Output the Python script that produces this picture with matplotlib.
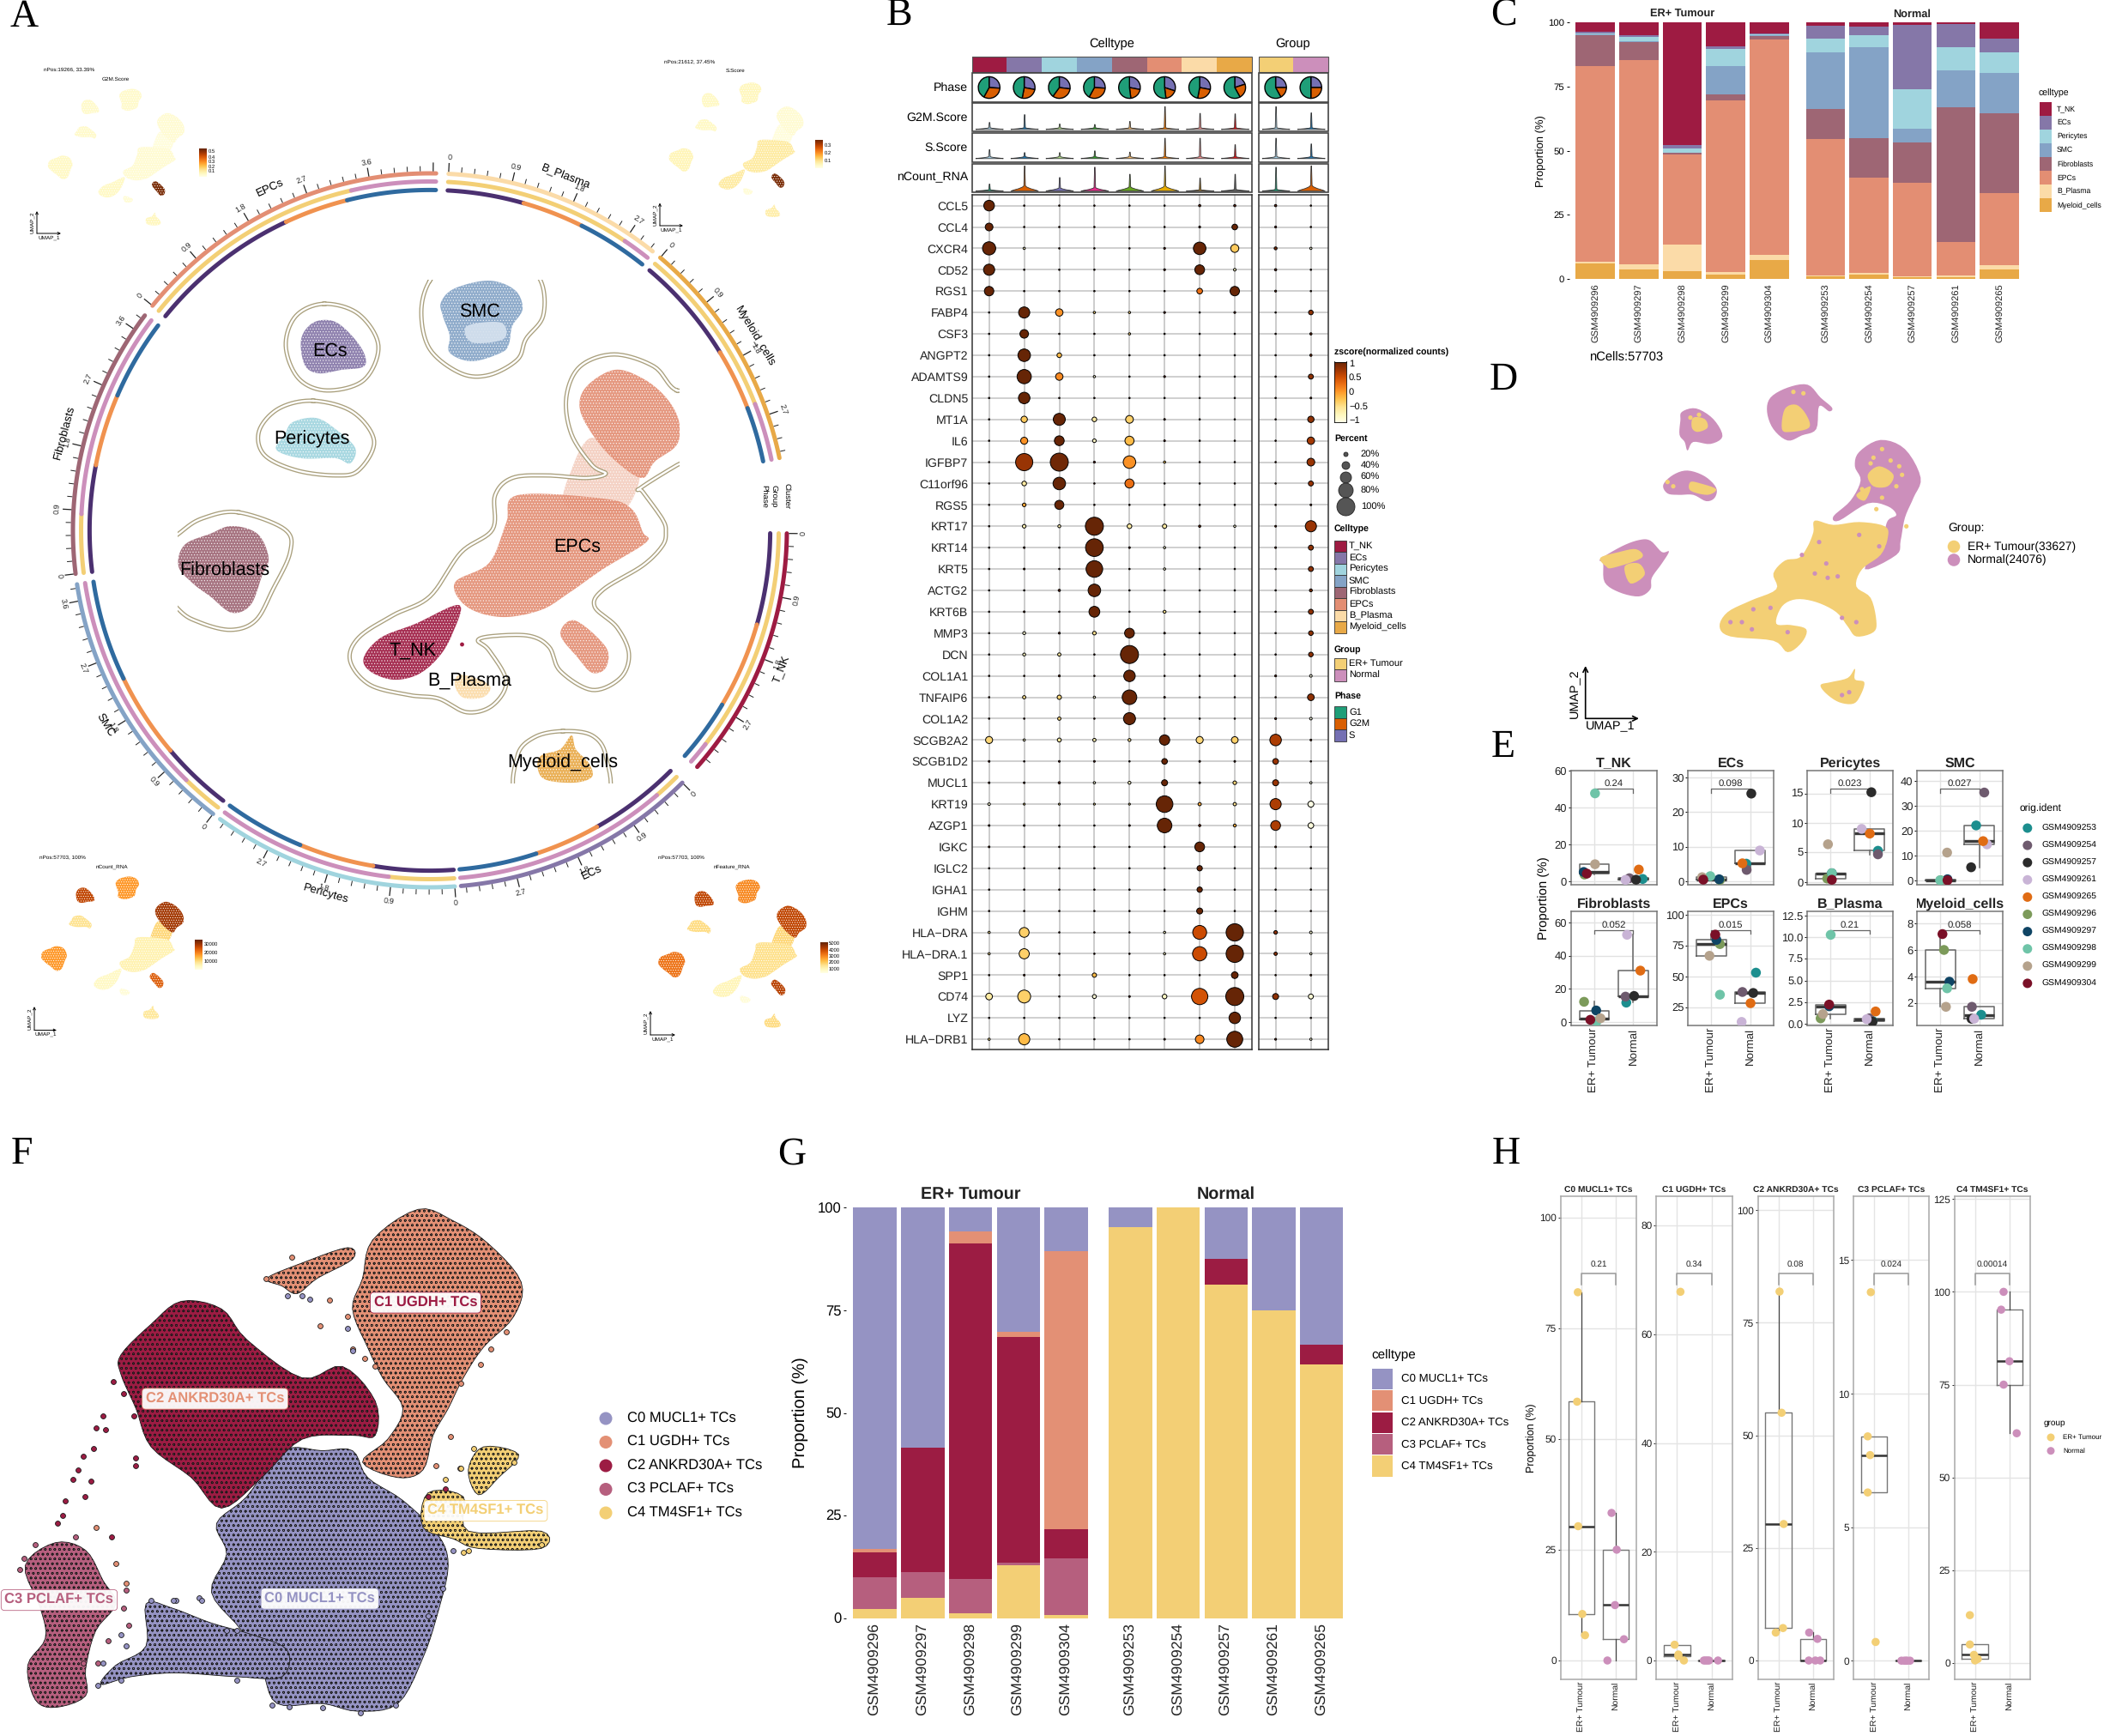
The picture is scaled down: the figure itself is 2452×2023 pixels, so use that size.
import numpy as np
import matplotlib
matplotlib.use("Agg")
import matplotlib.pyplot as plt
from matplotlib.patches import Polygon, Rectangle

plt.rcParams['font.family'] = ['Liberation Sans', 'DejaVu Sans']
plt.rcParams['hatch.linewidth'] = 0.45
plt.rcParams['text.hinting'] = 'no_hinting'

W, H = 2452, 2023

CELLTYPES = ["T_NK", "ECs", "Pericytes", "SMC", "Fibroblasts", "EPCs", "B_Plasma", "Myeloid_cells"]
CELL_COLORS = ["#9E1B42", "#8577A8", "#A0D4DE", "#84A3C6", "#9E6674", "#E38E73", "#FBDBA8", "#E8A947"]
GROUP_COLORS = ["#F3CF75", "#CC8FBB"]
PHASE_COLORS = ["#1F9E78", "#D95F02", "#7570B3"]
RING_PHASE = ["#4B3070", "#F0924F", "#2F6A9F"]

SAMPLES_ER = ["GSM4909296", "GSM4909297", "GSM4909298", "GSM4909299", "GSM4909304"]
SAMPLES_N = ["GSM4909253", "GSM4909254", "GSM4909257", "GSM4909261", "GSM4909265"]

# panel C, one row per sample, columns in CELLTYPES order
PROP_ER = [
    [3.7, 0.4, 0.6, 0.1, 12.3, 76.2, 0.6, 6.0],
    [5.1, 0.6, 1.5, 0.5, 7.1, 79.6, 2.0, 3.6],
    [47.8, 1.5, 1.5, 0.1, 0.6, 35.1, 10.3, 3.1],
    [9.3, 1.2, 6.4, 11.2, 2.4, 66.7, 1.1, 1.7],
    [4.2, 0.5, 0.4, 0.1, 1.5, 83.9, 2.2, 7.2],
]
PROP_N = [
    [1.3, 5.1, 5.3, 22.1, 11.8, 53.0, 0.3, 1.1],
    [1.7, 3.3, 4.7, 35.3, 15.4, 37.3, 0.6, 1.7],
    [0.9, 25.3, 15.2, 5.3, 15.8, 36.5, 0.2, 0.8],
    [0.8, 8.9, 9.0, 14.5, 52.5, 13.0, 0.5, 0.8],
    [6.4, 5.2, 8.2, 15.8, 31.0, 28.2, 1.4, 3.8],
]

# panel G
TC_TYPES = ["C0 MUCL1+ TCs", "C1 UGDH+ TCs", "C2 ANKRD30A+ TCs", "C3 PCLAF+ TCs", "C4 TM4SF1+ TCs"]
TC_COLORS = ["#9593C3", "#E39075", "#9C1C43", "#B65F7E", "#F3CF75"]
TC_ER = [
    [83.1, 0.8, 6.2, 7.7, 2.2],
    [58.4, 0.0, 30.3, 6.3, 5.0],
    [5.7, 2.9, 81.9, 8.4, 1.1],
    [30.3, 1.1, 55.0, 0.7, 12.9],
    [10.5, 67.8, 7.2, 13.8, 0.7],
]
TC_N = [
    [4.8, 0, 0, 0, 95.2],
    [0, 0, 0, 0, 100.0],
    [12.5, 0, 6.2, 0, 81.3],
    [25.0, 0, 0, 0, 75.0],
    [33.3, 0, 4.8, 0, 61.9],
]

# panel B
GENES = ["CCL5", "CCL4", "CXCR4", "CD52", "RGS1", "FABP4", "CSF3", "ANGPT2", "ADAMTS9", "CLDN5",
         "MT1A", "IL6", "IGFBP7", "C11orf96", "RGS5", "KRT17", "KRT14", "KRT5", "ACTG2", "KRT6B",
         "MMP3", "DCN", "COL1A1", "TNFAIP6", "COL1A2", "SCGB2A2", "SCGB1D2", "MUCL1", "KRT19", "AZGP1",
         "IGKC", "IGLC2", "IGHA1", "IGHM", "HLA\u2212DRA", "HLA\u2212DRA.1", "SPP1", "CD74", "LYZ", "HLA\u2212DRB1"]
DOT_PCT = [
    [57, 3, 3, 3, 3, 3, 8, 8, 8, 3],
    [40, 3, 3, 3, 3, 3, 6, 28, 6, 3],
    [72, 8, 3, 3, 3, 6, 68, 42, 12, 8],
    [60, 3, 3, 3, 3, 6, 52, 10, 8, 3],
    [50, 3, 3, 3, 3, 3, 28, 50, 6, 3],
    [3, 60, 38, 8, 8, 6, 3, 6, 3, 22],
    [3, 45, 3, 3, 8, 3, 3, 3, 3, 8],
    [3, 68, 22, 3, 3, 3, 3, 3, 3, 8],
    [3, 78, 38, 8, 3, 6, 3, 3, 3, 24],
    [3, 62, 3, 3, 3, 3, 3, 3, 3, 5],
    [3, 32, 65, 22, 40, 5, 3, 3, 3, 32],
    [3, 36, 52, 16, 48, 5, 3, 3, 3, 38],
    [3, 95, 100, 6, 68, 8, 3, 3, 3, 40],
    [3, 22, 68, 3, 48, 3, 3, 3, 3, 24],
    [3, 16, 48, 3, 3, 3, 3, 3, 3, 5],
    [3, 16, 12, 100, 22, 20, 8, 8, 5, 60],
    [3, 5, 3, 98, 5, 8, 3, 3, 5, 24],
    [3, 5, 3, 92, 3, 8, 3, 3, 3, 24],
    [3, 3, 8, 68, 3, 3, 3, 3, 3, 12],
    [3, 5, 3, 58, 3, 12, 3, 3, 3, 24],
    [3, 12, 6, 16, 52, 5, 3, 3, 3, 22],
    [3, 12, 14, 3, 100, 3, 3, 3, 3, 22],
    [3, 3, 6, 3, 62, 3, 3, 3, 6, 10],
    [3, 14, 20, 8, 80, 5, 3, 3, 3, 34],
    [3, 3, 14, 3, 65, 3, 3, 3, 6, 10],
    [36, 8, 18, 14, 12, 55, 36, 34, 62, 5],
    [5, 3, 5, 5, 3, 28, 5, 5, 28, 3],
    [5, 5, 8, 8, 12, 30, 5, 16, 30, 8],
    [10, 6, 6, 6, 6, 92, 14, 14, 60, 30],
    [5, 5, 3, 3, 5, 80, 8, 12, 52, 28],
    [5, 3, 3, 3, 3, 3, 52, 3, 5, 3],
    [3, 3, 3, 3, 3, 3, 26, 3, 3, 3],
    [3, 3, 3, 3, 3, 3, 26, 3, 3, 3],
    [3, 3, 3, 3, 3, 3, 30, 3, 3, 3],
    [8, 52, 3, 3, 3, 8, 76, 96, 16, 10],
    [8, 54, 3, 3, 3, 8, 78, 96, 14, 8],
    [3, 5, 3, 20, 3, 3, 3, 34, 3, 5],
    [34, 70, 3, 18, 5, 22, 90, 100, 30, 24],
    [3, 3, 3, 3, 3, 3, 3, 62, 3, 3],
    [8, 60, 3, 3, 3, 5, 45, 88, 6, 8],
]
ONES = [1] * 10
DOT_Z = [
    ONES, ONES,
    [1, -.8, 1, 1, 1, 1, 1, -.3, .9, -.9],
    [1, 1, 1, 1, 1, 1, 1, -.8, 1, 1],
    [1, 1, 1, 1, 1, 1, .25, 1, 1, 1],
    [1, 1, .05, -.4, -.4, 1, 1, 1, 1, .8],
    [1, 1, 1, 1, -.4, 1, 1, 1, 1, 1],
    [1, 1, -.2, 1, 1, 1, 1, 1, 1, .9],
    [1, 1, .1, -.9, 1, 1, 1, 1, 1, .8],
    ONES,
    [1, -.3, 1, -.6, -.35, 1, 1, 1, 1, .8],
    [1, .05, 1, -.8, -.2, 1, 1, 1, 1, .7],
    [1, .75, .95, 1, .05, -.3, 1, 1, 1, .75],
    [1, -.6, 1, 1, .25, 1, 1, 1, 1, .75],
    [1, -.1, 1, 1, 1, 1, 1, 1, 1, 1],
    [1, -.7, -.7, 1, -.6, -.6, 1, -.9, 1, .75],
    [1, 1, 1, 1, 1, -.9, 1, 1, 1, .8],
    [1, 1, 1, 1, 1, -.9, 1, 1, 1, .8],
    [1, 1, 1, 1, 1, 1, 1, 1, 1, .9],
    [1, 1, 1, 1, 1, -.5, 1, 1, 1, .8],
    [1, -.9, 1, -.5, 1, 1, 1, 1, 1, .8],
    [1, -.8, -.6, 1, 1, 1, 1, 1, 1, .8],
    [1, 1, 1, 1, 1, 1, 1, 1, 1, -1],
    [1, -.5, -.4, -.9, 1, 1, 1, 1, 1, .8],
    [1, 1, -.4, 1, 1, 1, 1, 1, 1, -1],
    [-.4, -.8, -.6, -.7, -.5, 1, -.4, -.35, .65, 1],
    [1, 1, 1, 1, 1, 1, 1, 1, .75, 1],
    [1, 1, 1, -.9, -.8, 1, 1, -.4, .75, -1],
    [-.9, -.5, -.5, -.5, -.5, 1, -.1, -.5, .65, -1],
    [1, 1, 1, 1, 1, 1, .9, -.1, .65, -.95],
    ONES, ONES, ONES, ONES,
    [-.5, -.35, 1, 1, 1, -.8, .5, 1, .8, -.9],
    [-.5, -.35, 1, 1, 1, -.8, .5, 1, .8, -.9],
    [1, 1, 1, -.2, 1, 1, 1, 1, 1, 1],
    [-.6, -.35, 1, -.9, 1, -.8, .45, 1, .8, -.9],
    ONES,
    [-.5, -.2, 1, 1, 1, 1, .1, 1, 1, -.9],
]
PHASE_G1 = [.42, .47, .40, .42, .52, .52, .47, .58, .58, .50]
PHASE_G2M = [.32, .25, .33, .32, .20, .18, .25, .22, .17, .25]
PHASE_S = [.26, .28, .27, .26, .28, .30, .28, .20, .25, .25]
VIOLIN_G2M = [.27, .57, .21, .19, .31, .88, .62, .60, .88, .64]
VIOLIN_S = [.36, .24, .24, .31, .26, .82, .82, .56, .82, .59]
VIOLIN_NCOUNT = [.26, .93, .50, .88, .62, .93, .48, .62, .88, .93]
BODY_NCOUNT = [.04, .15, .09, .10, .12, .14, .04, .05, .05, .16]
PAIRED = ["#A6CEE3", "#1F78B4", "#B2DF8A", "#33A02C", "#FDBF6F", "#FF7F00", "#FB9A99", "#E31A1C", "#A6CEE3", "#1F78B4"]
DARK2 = ["#1B9E77", "#D95F02", "#7570B3", "#E7298A", "#66A61E", "#E6AB02", "#A6761D", "#666666", "#1B9E77", "#D95F02"]

# panel A ring, angles in degrees, clockwise sectors
SECTORS = ["B_Plasma", "Myeloid_cells", "T_NK", "ECs", "Pericytes", "SMC", "Fibroblasts", "EPCs"]
SECTOR_COLOR = ["#FBDBA8", "#E8A947", "#9E1B42", "#8577A8", "#A0D4DE", "#84A3C6", "#9E6674", "#E38E73"]
SECTOR_START = [87, 49.8, -0.5, -45, -86, -127.4, 187, 141]
SECTOR_END = [51.4, 11.7, -41.5, -85, -126, -171.3, 143, 89]
SECTOR_ER = [.87, .75, .91, .11, .27, .157, .22, .73]
SECTOR_P1 = [.365, .48, .38, .39, .34, .28, .41, .50]
SECTOR_P2 = [.66, .755, .74, .67, .66, .61, .69, .71]
SECTOR_LABEL_ANG = [69, 30.9, -21.5, -64.6, -106, -149, 165, 115]

# panel A outlines in figure pixels
SMC_XY = [(530, 336), (570, 327), (600, 338), (609, 360), (597, 380), (593, 401), (584, 411), (550, 421), (524, 411), (524, 391), (516, 368), (514, 352)]
SMC_HOLE = [(544, 380), (584, 376), (587, 395), (550, 399)]
ECS_XY = [(365, 376), (388, 374), (408, 389), (424, 411), (424, 427), (398, 431), (371, 435), (355, 425), (351, 395)]
PER_XY = [(341, 492), (368, 487), (391, 500), (414, 522), (408, 540), (391, 534), (351, 534), (322, 524), (332, 506)]
FIB_XY = [(270, 613), (300, 622), (313, 650), (305, 672), (292, 705), (270, 714), (245, 695), (225, 680), (208, 660), (215, 635), (245, 622)]
EPC_TOP = [(716, 431), (749, 441), (776, 463), (791, 490), (789, 518), (763, 538), (749, 557), (723, 542), (696, 514), (676, 478), (683, 451)]
EPC_NECK = [(690, 510), (730, 545), (745, 560), (720, 600), (660, 590), (665, 550)]
EPC_MAIN = [(603, 577), (703, 581), (736, 593), (749, 620), (753, 632), (703, 663), (663, 691), (630, 711), (584, 719), (544, 707), (530, 679), (570, 656), (590, 609)]
EPC_TAIL = [(670, 723), (706, 754), (706, 778), (690, 784), (673, 766), (653, 739)]
TNK_XY = [(535, 705), (527, 739), (511, 766), (487, 786), (458, 792), (431, 782), (424, 766), (444, 743), (484, 727)]
BPL_XY = [(537, 786), (570, 798), (564, 812), (540, 813), (530, 798)]
MYE_XY = [(630, 881), (653, 873), (666, 857), (671, 873), (686, 889), (690, 905), (670, 912), (637, 909), (627, 897)]
CLUSTERS = [SMC_XY, ECS_XY, PER_XY, FIB_XY, EPC_NECK, EPC_TOP, EPC_MAIN, EPC_TAIL, TNK_XY, BPL_XY, MYE_XY]
CLUSTER_COLOR = ["#84A3C6", "#8577A8", "#A0D4DE", "#9E6674", "#F3CDBF", "#E38E73", "#E38E73", "#E38E73", "#9E1B42", "#FBDBA8", "#E8A947"]

TUBE_SMC = [(501, 327), (491, 364), (501, 407), (537, 435), (570, 437), (603, 419), (613, 395), (633, 368), (630, 327), (600, 300), (530, 300)]
TUBE_ECS = [(378, 354), (418, 366), (441, 403), (424, 443), (381, 455), (348, 441), (333, 403), (345, 368)]
TUBE_PER = [(365, 467), (411, 480), (436, 514), (418, 548), (391, 554), (345, 548), (308, 530), (302, 502), (325, 476)]
TUBE_FIB = [(278, 597), (332, 617), (338, 644), (318, 687), (298, 723), (269, 734), (232, 725), (207, 709), (170, 660), (212, 619), (239, 603)]
TUBE_EPC = [(789, 455), (762, 427), (716, 413), (676, 427), (660, 463), (666, 506), (690, 542), (706, 552), (683, 557), (637, 554), (597, 557), (577, 577), (574, 617),
            (537, 644), (501, 695), (458, 717), (418, 743), (408, 770), (431, 798), (477, 810), (511, 814), (544, 830), (574, 822), (590, 794), (570, 758), (557, 746),
            (577, 741), (617, 741), (640, 754), (653, 782), (690, 804), (723, 790), (733, 762), (719, 731), (693, 707), (703, 687), (749, 659), (772, 636), (776, 620),
            (772, 605), (749, 573), (746, 569), (789, 542), (830, 520), (830, 450)]
TUBE_MYE = [(656, 852), (690, 857), (706, 881), (703, 930), (607, 930), (603, 881), (623, 859)]
TUBES = [TUBE_SMC, TUBE_ECS, TUBE_PER, TUBE_FIB, TUBE_EPC, TUBE_MYE]

# mini UMAP colour values per cluster (0 to 1 on the colour scale)
MINI_G2M = [.08, .08, .08, .1, .03, .06, .06, .95, .1, .05, .12]
MINI_S = [.12, .1, .1, .14, .03, .06, .2, .95, .2, .05, .18]
MINI_NCOUNT = [.5, .78, .25, .5, .3, .85, .16, .68, .1, .04, .22]
MINI_NFEAT = [.55, .78, .28, .62, .3, .78, .26, .8, .14, .04, .28]

# panel D outlines, in crop units of one third pixel from (1800, 420)
D_PINK = [
    [(790, 130), (850, 95), (920, 85), (965, 130), (1005, 165), (995, 178), (960, 160), (950, 240), (900, 262), (850, 280), (800, 240), (778, 180)],
    [(480, 180), (530, 168), (590, 205), (622, 265), (580, 292), (520, 285), (500, 315), (490, 285), (472, 260), (475, 210)],
    [(415, 435), (450, 400), (500, 385), (560, 405), (600, 445), (595, 480), (565, 492), (520, 470), (470, 470), (430, 465)],
    [(270, 650), (330, 628), (370, 630), (410, 670), (435, 668), (410, 710), (375, 760), (370, 800), (330, 825), (260, 810), (210, 775), (205, 710), (195, 695)],
    [(1100, 320), (1175, 278), (1260, 310), (1315, 410), (1290, 480), (1260, 550), (1245, 630), (1230, 680), (1120, 730), (1180, 620), (1200, 560), (1230, 540), (1200, 510), (1130, 500), (1030, 560), (1010, 545), (1070, 490), (1105, 420), (1085, 370)],
]
D_YELLOW = [
    [(840, 170), (880, 155), (915, 190), (925, 235), (860, 250), (830, 240)],
    [(520, 200), (560, 205), (570, 235), (535, 250), (515, 235)],
    [(510, 425), (545, 430), (600, 450), (570, 470), (510, 455)],
    [(195, 690), (260, 670), (320, 660), (340, 690), (240, 725), (215, 720)],
    [(280, 720), (330, 710), (350, 750), (300, 780)],
    [(1130, 400), (1170, 370), (1220, 400), (1200, 440), (1150, 440)],
    [(1090, 470), (1140, 440), (1120, 490)],
    [(945, 560), (1010, 575), (1100, 565), (1190, 580), (1200, 620), (1175, 680), (1110, 730), (1090, 790), (1140, 830), (1160, 910), (1150, 950), (1090, 965), (1060, 930), (1020, 880), (950, 845), (880, 835), (830, 860), (810, 920), (860, 925), (915, 940), (900, 985), (850, 1020), (800, 980), (650, 965), (612, 930), (640, 880), (720, 840), (810, 800), (800, 745), (840, 700), (890, 690), (920, 650), (940, 600)],
    [(965, 1135), (1000, 1125), (1060, 1110), (1085, 1078), (1085, 1115), (1118, 1125), (1105, 1170), (1080, 1200), (1030, 1195), (985, 1165)],
]
D_PINK_SPOTS = [(730, 870), (790, 865), (690, 915), (650, 915), (850, 950), (1090, 915), (1040, 900), (945, 745), (990, 760), (1025, 755), (1100, 610), (1170, 650), (1065, 1160), (1040, 1170), (960, 635), (985, 710), (725, 940), (900, 680), (1200, 650)]
D_YELLOW_SPOTS = [(905, 115), (870, 110), (510, 200), (450, 440), (430, 425), (1180, 310), (1150, 340), (1210, 350), (1250, 400), (300, 740), (540, 190), (320, 670), (1265, 580), (1160, 520), (1240, 370), (1110, 450), (1230, 440), (1180, 480), (1140, 360)]

# panel E
SAMPLE_ORDER = ["GSM4909253", "GSM4909254", "GSM4909257", "GSM4909261", "GSM4909265", "GSM4909296", "GSM4909297", "GSM4909298", "GSM4909299", "GSM4909304"]
SAMPLE_COLORS = ["#1C8E8E", "#6E5A6E", "#2B2B2B", "#C9B4D6", "#E06C14", "#7C9A5A", "#0F4464", "#6FC4A8", "#B5A28C", "#7A1027"]
E_P = ["0.24", "0.098", "0.023", "0.027", "0.052", "0.015", "0.21", "0.058"]
E_YLIM = [(-1.7, 60.3), (-.9, 32), (-.4, 18.9), (-1.6, 44.2), (-1.9, 66.4), (10.1, 102.6), (-.23, 13), (.29, 8.9)]
E_TICKS = [[0, 20, 40, 60], [0, 10, 20, 30], [0, 5, 10, 15], [0, 10, 20, 30, 40], [0, 20, 40, 60], [25, 50, 75, 100], [0, 2.5, 5, 7.5, 10, 12.5], [2, 4, 6, 8]]
E_TICKLABELS = [None, None, None, None, None, None, ["0.0", "2.5", "5.0", "7.5", "10.0", "12.5"], None]
# horizontal jitter per sample in SAMPLE_ORDER
E_JITTER = [
    [.24, -.1, .07, -.2, .14, -.25, -.27, .02, .02, -.19],
    [-.1, -.09, .03, .25, -.2, .22, .2, -.03, -.24, -.21],
    [.22, .22, .05, -.2, .01, -.09, .03, .03, -.07, .03],
    [-.08, .13, -.21, .2, .1, 0, .18, -.01, .17, .18],
    [-.18, -.2, .02, -.16, .18, -.26, .05, .06, .16, -.1],
    [.15, -.2, .08, -.22, .01, .22, .13, .22, -.05, .1],
    [.08, 0, .08, -.07, .16, -.26, -.04, 0, -.2, -.04],
    [.05, -.19, -.2, -.13, -.17, .09, .23, .17, .14, .05],
]

# panel H
H_P = ["0.21", "0.34", "0.08", "0.024", "0.00014"]
H_YLIM = [(-4.26, 104.8), (-3.47, 85.4), (-4.19, 103.1), (-.7, 17.4), (-4.4, 125.8)]
H_TICKS = [[0, 25, 50, 75, 100], [0, 20, 40, 60, 80], [0, 25, 50, 75, 100], [0, 5, 10, 15], [0, 25, 50, 75, 100, 125]]
H_JIT_ER = [[-.1, -.12, .11, -.09, .03], [.04, .2, -.07, .04, .1], [-.08, .15, .03, .09, .13], [-.11, -.18, -.18, .05, -.09], [-.03, -.15, .08, -.15, 0]]
H_JIT_N = [[.24, -.24, -.02, .03, -.12], [-.22, -.17, -.12, -.07, .19], [-.12, .07, -.11, .21, .13], [-.2, -.12, -.03, .05, -.07], [-.24, -.17, 0, -.17, .21]]

# panel F outlines, in crop units from (0, 1320): x/1.704, y/2.24
F_C1 = [(830, 200), (900, 230), (970, 290), (1035, 390), (1020, 480), (960, 560), (920, 640), (890, 720), (860, 790), (840, 880), (790, 900), (720, 860), (770, 800), (800, 720), (760, 640), (730, 560), (700, 460), (720, 380), (740, 280)]
F_C1_TAIL = [(530, 380), (600, 340), (690, 300), (700, 330), (630, 380), (590, 420), (560, 400)]
F_C2 = [(360, 440), (440, 460), (490, 540), (600, 640), (680, 610), (745, 700), (745, 790), (700, 790), (600, 800), (520, 900), (440, 980), (380, 900), (300, 820), (270, 720), (240, 630), (240, 580), (300, 500)]
F_C0 = [(560, 830), (640, 830), (700, 830), (730, 900), (800, 960), (870, 1050), (890, 1130), (870, 1250), (840, 1370), (790, 1490), (710, 1510), (640, 1490), (550, 1490), (520, 1400), (480, 1300), (420, 1200), (450, 1100), (430, 1020), (490, 950)]
F_C0_TAIL = [(420, 1280), (500, 1310), (570, 1350), (560, 1420), (470, 1420), (350, 1410), (260, 1420), (200, 1440), (230, 1390), (290, 1340), (290, 1230), (340, 1240)]
F_C3 = [(110, 1070), (170, 1090), (205, 1170), (230, 1230), (190, 1300), (170, 1400), (170, 1470), (110, 1500), (70, 1480), (55, 1390), (90, 1320), (80, 1240), (50, 1130)]
F_C4_A = [(960, 820), (1030, 840), (990, 900), (950, 945), (930, 880)]
F_C4_B = [(850, 940), (920, 950), (930, 1040), (1075, 1040), (1075, 1085), (950, 1085), (900, 1060), (840, 1030)]
F_C2_DOTS = [(205, 740), (190, 770), (210, 775), (185, 825), (165, 845), (155, 880), (145, 905), (180, 910), (168, 950), (130, 960), (125, 1000), (115, 1020), (222, 1055), (270, 850), (270, 870), (225, 650), (245, 680), (265, 740), (850, 950), (885, 930)]
F_C1_DOTS = [(580, 325), (635, 505), (655, 437), (528, 380), (895, 793), (865, 870), (913, 875), (190, 1030), (230, 1125), (250, 1175), (1005, 520), (975, 565), (955, 605), (915, 655), (690, 480), (700, 565), (725, 590), (745, 610)]
F_C0_DOTS = [(570, 425), (600, 425), (615, 435), (690, 510), (700, 570), (395, 1215), (350, 1220), (470, 1300), (880, 1190), (850, 1260), (900, 1090), (470, 1430), (540, 1495), (575, 1498), (640, 1500), (785, 1495), (715, 1515), (450, 1300), (400, 1220), (345, 1220), (300, 1220), (240, 1310), (250, 1340), (205, 1385), (240, 1428), (195, 1442)]
F_C3_DOTS = [(70, 1075), (150, 1055), (250, 1195), (245, 1240), (255, 1285), (215, 1325), (165, 1385), (195, 1385), (40, 1140), (48, 1110)]
F_C4_DOTS = [(915, 875), (885, 905), (940, 825), (920, 1095), (930, 1090), (1020, 860), (1075, 1075)]


fig = plt.figure(figsize=(W / 100, H / 100), dpi=100)
ylbr = plt.get_cmap("YlOrBr")


def add_ax(x0, y0, x1, y1):
    return fig.add_axes([x0 / W, 1 - y1 / H, (x1 - x0) / W, (y1 - y0) / H])


pix = fig.add_axes([0, 0, 1, 1], zorder=6)
pix.set_xlim(0, W)
pix.set_ylim(H, 0)
pix.axis("off")
pix.patch.set_alpha(0)


def smooth(pts, n=10):
    # closed curve through the outline vertices
    p = np.array(pts, dtype=float)
    out = []
    m = len(p)
    for i in range(m):
        p0, p1, p2, p3 = p[i - 1], p[i], p[(i + 1) % m], p[(i + 2) % m]
        for t in np.linspace(0, 1, n, endpoint=False):
            out.append(0.5 * (2 * p1 + (p2 - p0) * t + (2 * p0 - 5 * p1 + 4 * p2 - p3) * t ** 2 + (3 * p1 - p0 - 3 * p2 + p3) * t ** 3))
    return np.array(out)


def txt(x, y, s, size=9, ha="center", va="center", **kw):
    return pix.text(x, y, s, fontsize=size, ha=ha, va=va, **kw)


def swatch(x0, x1, y0, y1, color):
    pix.add_patch(Rectangle((x0, y0), x1 - x0, y1 - y0, facecolor=color, edgecolor="none"))


# panel letters
for letter, lx, ly in [("A", 28, 20), ("B", 1048, 18), ("C", 1752, 17), ("D", 1752, 443), ("E", 1752, 871), ("F", 25, 1345), ("G", 923, 1345), ("H", 1755, 1345)]:
    txt(lx, ly, letter, size=33, family=["Liberation Serif"])


# ---- panel A ----
CX, CY = 501, 618


def ring(r, a0, a1, color, lw=3.6, cap="round"):
    th = np.radians(np.linspace(a0, a1, 60))
    pix.plot(CX + r * np.cos(th), CY - r * np.sin(th), color=color, lw=lw, solid_capstyle=cap)


for i, name in enumerate(SECTORS):
    a0, a1 = SECTOR_START[i], SECTOR_END[i]
    span = a1 - a0
    ring(416, a0, a1, SECTOR_COLOR[i])
    ring(406.5, a0, a0 + span * SECTOR_ER[i], GROUP_COLORS[0])
    ring(406.5, a0 + span * SECTOR_ER[i], a1, GROUP_COLORS[1])
    ring(396.6, a0, a0 + span * SECTOR_P1[i], RING_PHASE[0])
    ring(396.6, a0 + span * SECTOR_P1[i], a0 + span * SECTOR_P2[i], RING_PHASE[1])
    ring(396.6, a0 + span * SECTOR_P2[i], a1, RING_PHASE[2])
    nticks = int(abs(span) / 11.45 / 0.18) + 1
    for k in range(nticks):
        v = k * 0.18
        ang = a0 - v * 11.45
        th = np.radians(ang)
        major = k % 5 == 0
        r1 = 428 if major else 424
        pix.plot([CX + 419 * np.cos(th), CX + r1 * np.cos(th)], [CY - 419 * np.sin(th), CY - r1 * np.sin(th)], color="#222222", lw=0.9 if major else 0.7)
        if major and v < 4:
            rot = ang - 90 if np.sin(th) >= 0 else ang + 90
            txt(CX + 435 * np.cos(th), CY - 435 * np.sin(th), "0" if k == 0 else "%.1f" % v, size=6.5, rotation=rot, color="#222222")
    th = np.radians(SECTOR_LABEL_ANG[i])
    rot = SECTOR_LABEL_ANG[i] - 90 if np.sin(th) >= 0 else SECTOR_LABEL_ANG[i] + 90
    txt(CX + 441 * np.cos(th), CY - 441 * np.sin(th), name, size=9.5, rotation=rot)

for lab, lx in [("Cluster", 916.5), ("Group", 902), ("Phase", 890.5)]:
    txt(lx, 578, lab, size=6.8, rotation=270)

clip_a = Rectangle((207, 326), 585, 587, transform=pix.transData)
for pts, col in zip(CLUSTERS, CLUSTER_COLOR):
    patch = Polygon(smooth(pts), closed=True, facecolor=col, edgecolor="white", lw=0, alpha=0.9, hatch=".....")
    pix.add_patch(patch)
    patch.set_clip_path(clip_a)
pix.add_patch(Polygon(smooth(SMC_HOLE), closed=True, facecolor="#D6E2EF", edgecolor="none", alpha=0.9))
pix.scatter([538.5], [751], s=12, color="#9E1B42", edgecolors="none")
for pts in TUBES:
    c = smooth(pts)
    c = np.vstack([c, c[0]])
    l1, = pix.plot(c[:, 0], c[:, 1], color="#A99F7C", lw=3.6)
    l2, = pix.plot(c[:, 0], c[:, 1], color="white", lw=1.7)
    l1.set_clip_path(clip_a)
    l2.set_clip_path(clip_a)
for lab, lx, ly in [("SMC", 559, 363), ("ECs", 385, 409), ("Pericytes", 363, 512), ("Fibroblasts", 262, 665), ("EPCs", 673, 637), ("T_NK", 481, 758), ("B_Plasma", 547, 794), ("Myeloid_cells", 656, 889)]:
    txt(lx, ly, lab, size=15.5)


def mini_umap(x0, y0, scale, values, title, tx, ty, name, nx, ny, cb, labels, arrow):
    for pts, v in zip(CLUSTERS, values):
        q = smooth(pts, 5) * scale + np.array([x0, y0])
        pix.add_patch(Polygon(q, closed=True, facecolor=ylbr(v), edgecolor="white", lw=0, hatch="......"))
    txt(tx, ty, title, size=4.6)
    txt(nx, ny, name, size=4.6)
    cax = add_ax(*cb)
    cax.imshow(np.linspace(1, 0, 64)[:, None], cmap=ylbr, aspect="auto")
    cax.axis("off")
    for lab, ly in labels:
        txt(cb[2] + 2, ly, lab, size=4.2, ha="left")
    ox, oy, top, right = arrow
    pix.annotate("", xy=(ox, top), xytext=(ox, oy), arrowprops=dict(arrowstyle="->", lw=0.7, shrinkA=0, shrinkB=0, mutation_scale=5))
    pix.annotate("", xy=(right, oy), xytext=(ox, oy), arrowprops=dict(arrowstyle="->", lw=0.7, shrinkA=0, shrinkB=0, mutation_scale=5))
    txt(ox - 5, (oy + top) / 2, "UMAP_2", size=4.6, rotation=90)
    txt((ox + right) / 2, oy + 5, "UMAP_1", size=4.6)


mini_umap(-0.6, 14.6, .272, MINI_G2M, "nPos:19266, 33.39%", 81, 81, "G2M.Score", 134.6, 92, (232, 173, 241, 205.6),
          [("0.5", 176), ("0.4", 183), ("0.3", 188.6), ("0.2", 194), ("0.1", 199.7)], (43, 272, 246, 71))
mini_umap(724, 8.5, .268, MINI_S, "nPos:21612, 37.45%", 804, 72, "S.Score", 857, 82, (950, 163, 959, 196.5),
          [("0.3", 169), ("0.2", 178), ("0.1", 187.5)], (769, 263, 236.5, 796))
mini_umap(-11, 928.5, .284, MINI_NCOUNT, "nPos:57703, 100%", 73, 999, "nCount_RNA", 130.6, 1010, (227.5, 1095, 236, 1130),
          [("30000", 1100), ("20000", 1110), ("10000", 1120)], (40, 1200.5, 1173, 66))
mini_umap(706, 928.4, .295, MINI_NFEAT, "nPos:57703, 100%", 794, 999, "nFeature_RNA", 853, 1010, (955.6, 1098, 964, 1134),
          [("5000", 1099), ("4000", 1107), ("3000", 1114), ("2000", 1121), ("1000", 1129)], (758, 1206, 1178, 787))


# ---- panel B ----
B_BOXES = [(1132.6, 1459), (1466.5, 1548)]
B_COLS = [1152.7 + 40.9 * i for i in range(8)] + [1486.6, 1527.7]
ROW0, ROWSTEP = 239.6, 24.91
DOTS_TOP, DOTS_BOTTOM = 227, 1223.4

txt(1295.5, 51.4, "Celltype", size=10.5)
txt(1507, 51.4, "Group", size=10.5)
for i, col in enumerate(CELL_COLORS):
    swatch(1132.6 + i * 40.8, 1132.6 + (i + 1) * 40.8, 66.4, 83.8, col)
for i, col in enumerate(GROUP_COLORS):
    swatch(1466.5 + i * 40.75, 1466.5 + (i + 1) * 40.75, 66.4, 83.8, col)
for x0, x1 in B_BOXES:
    pix.add_patch(Rectangle((x0, 66.4), x1 - x0, 17.4, facecolor="none", edgecolor="#555555", lw=0.8))
    for y0, y1 in [(85, 118.6), (120.2, 153.4), (155.4, 189), (190.6, 223.8)]:
        pix.add_patch(Rectangle((x0, y0), x1 - x0, y1 - y0, facecolor="none", edgecolor="#444444", lw=1.2))

for lab, ly in [("Phase", 102), ("G2M.Score", 137), ("S.Score", 172), ("nCount_RNA", 207)]:
    txt(1128, ly, lab, size=10.2, ha="right")

for i, x in enumerate(B_COLS):
    pie_ax = add_ax(x - 15, 87, x + 15, 117)
    pie_ax.pie([PHASE_S[i], PHASE_G2M[i], PHASE_G1[i]], colors=[PHASE_COLORS[2], PHASE_COLORS[1], PHASE_COLORS[0]], startangle=90, counterclock=False,
               radius=1.05, wedgeprops=dict(edgecolor="black", linewidth=1.0))


def violin_row(y_base, y_top, heights, bodies, colors):
    for i, x in enumerate(B_COLS):
        h = heights[i] * (y_top - y_base)
        b = bodies[i] * (y_top - y_base)
        ys = np.array([0, 0.25 * b, 0.6 * b, b, 1.3 * b + 0.001, h])
        ws = np.array([16, 13, 7, 2.5, 0.9, 0.3])
        pix.fill_betweenx(y_base + ys, x - ws, x + ws, facecolor=colors[i], edgecolor="#333333", lw=0.6)


violin_row(150.3, 120.2, VIOLIN_G2M, [.05] * 10, PAIRED)
violin_row(184.3, 155.4, VIOLIN_S, [.06] * 10, PAIRED)
violin_row(222.2, 190.6, VIOLIN_NCOUNT, BODY_NCOUNT, DARK2)

for (x0, x1), cols in zip(B_BOXES, [range(8), range(8, 10)]):
    ax = add_ax(x0, DOTS_TOP, x1, DOTS_BOTTOM)
    ax.set_xlim(x0, x1)
    ax.set_ylim((DOTS_BOTTOM - ROW0) / ROWSTEP, (DOTS_TOP - ROW0) / ROWSTEP)
    for r in range(len(GENES)):
        ax.axhline(r, color="#CFCFCF", lw=1.4, zorder=1)
    for c in cols:
        ax.axvline(B_COLS[c], color="#C4C4C4", lw=1.2, zorder=1)
        pct = np.array([row[c] for row in DOT_PCT], dtype=float)
        zs = np.array([row[c] for row in DOT_Z], dtype=float)
        dia = (1 + 0.2 * pct) * 0.72
        ax.scatter([B_COLS[c]] * len(GENES), range(len(GENES)), s=dia ** 2, c=zs, cmap=ylbr, vmin=-1, vmax=1, edgecolors="black", linewidths=0.7, zorder=3)
    ax.set_xticks([])
    if x0 < 1400:
        ax.set_yticks(range(len(GENES)))
        ax.set_yticklabels(GENES, fontsize=10.2, color="#222222")
        ax.tick_params(axis="y", length=0, pad=3)
    else:
        ax.set_yticks([])
    for s in ax.spines.values():
        s.set_color("#333333")
        s.set_linewidth(1.1)

txt(1555, 410.4, "zscore(normalized counts)", size=7.6, ha="left", fontweight="bold")
cax = add_ax(1555, 421.5, 1569, 492.3)
cax.imshow(np.linspace(1, 0, 128)[:, None], cmap=ylbr, aspect="auto")
cax.set_xticks([])
cax.set_yticks([])
for s in cax.spines.values():
    s.set_linewidth(0.6)
for lab, ly in [("1", 424), ("0.5", 440.5), ("0", 457), ("\u22120.5", 473.7), ("\u22121", 490.3)]:
    txt(1572, ly, lab, size=8, ha="left")
txt(1555, 510.9, "Percent", size=7.6, ha="left", fontweight="bold")
for p, ly in [(20, 528.7), (40, 542), (60, 555.5), (80, 570.6), (100, 590)]:
    pix.scatter([1568.3], [ly], s=((1 + 0.2 * p) * 0.72) ** 2, color="#555555", edgecolors="#222222", linewidths=0.6)
    txt(1585.7, ly, "%d%%" % p, size=8, ha="left")


def legend_block(title, ty, labels, colors, top, step):
    txt(1555, ty, title, size=7.6, ha="left", fontweight="bold")
    for i, (lab, col) in enumerate(zip(labels, colors)):
        pix.add_patch(Rectangle((1555, top + i * step), 14, step, facecolor=col, edgecolor="#333333", lw=0.6))
        txt(1572, top + (i + .5) * step, lab, size=8, ha="left")


legend_block("Celltype", 616.8, CELLTYPES, CELL_COLORS, 629.5, 13.55)
legend_block("Group", 756.4, ["ER+ Tumour", "Normal"], GROUP_COLORS, 766.7, 13.65)
legend_block("Phase", 812, ["G1", "G2M", "S"], PHASE_COLORS, 822.8, 13.7)


# ---- stacked bars, panels C and G ----
def stacked_panel(x0, x1, y0, y1, centers, width, rows, colors, samples, labsize, show_y, ticksize):
    ax = add_ax(x0, y0, x1, y1)
    ax.set_xlim(x0, x1)
    ax.set_ylim(0, 100)
    rows = np.array(rows, dtype=float)
    # first column sits on top of the stack
    for j in range(rows.shape[1]):
        bottom = rows[:, j + 1:].sum(axis=1)
        ax.bar(centers, rows[:, j], width=width, bottom=bottom, color=colors[j], linewidth=0)
    ax.set_xticks(centers)
    ax.set_xticklabels(samples, rotation=90, fontsize=labsize, color="#222222")
    ax.tick_params(axis="x", length=0, pad=4)
    if show_y:
        ax.set_yticks([0, 25, 50, 75, 100])
        ax.tick_params(axis="y", labelsize=ticksize, length=2.5, pad=1.5, width=0.7)
    else:
        ax.set_yticks([])
    for s in ax.spines.values():
        s.set_visible(False)
    ax.patch.set_alpha(0)
    return ax


C_ER_X = [1859.2, 1909.8, 1960.4, 2011, 2061.9]
C_N_X = [2127.6, 2178.2, 2228.5, 2279.4, 2330]
stacked_panel(1828.8, 2092.3, 26, 325, C_ER_X, 45.6, PROP_ER, CELL_COLORS, SAMPLES_ER, 8, True, 8.2)
stacked_panel(2097, 2360, 26, 325, C_N_X, 45.6, PROP_N, CELL_COLORS, SAMPLES_N, 8, False, 8.2)
txt(1960.4, 16.7, "ER+ Tumour", size=9.2, fontweight="bold", color="#222222")
txt(2228.5, 16.7, "Normal", size=9.2, fontweight="bold", color="#222222")
txt(1796, 175.7, "Proportion (%)", size=9.4, rotation=90)
txt(2376, 109, "celltype", size=7.6, ha="left")
for i, (lab, col) in enumerate(zip(CELLTYPES, CELL_COLORS)):
    swatch(2376.7, 2391, 119 + i * 16.05, 119.7 + i * 16.05 + 15.3, col)
    txt(2397, 126.7 + i * 16.1, lab, size=6.2, ha="left")
txt(1852.5, 416.7, "nCells:57703", size=10.6, ha="left")

G_ER_X = [1019.5 + 55.8 * i for i in range(5)]
G_N_X = [1317.4 + 55.7 * i for i in range(5)]
stacked_panel(986, 1276, 1407.4, 1885.6, G_ER_X, 50.5, TC_ER, TC_COLORS, SAMPLES_ER, 12.6, True, 12)
stacked_panel(1284, 1573.5, 1407.4, 1885.6, G_N_X, 50.5, TC_N, TC_COLORS, SAMPLES_N, 12.6, False, 12)
txt(1131, 1391.7, "ER+ Tumour", size=14.2, fontweight="bold", color="#222222")
txt(1429, 1391.7, "Normal", size=14.2, fontweight="bold", color="#222222")
txt(932.8, 1646, "Proportion (%)", size=14.5, rotation=90)
txt(1598.7, 1578.6, "celltype", size=11, ha="left")
for i, (lab, col) in enumerate(zip(TC_TYPES, TC_COLORS)):
    swatch(1599, 1623.4, 1594.7 + i * 25.4, 1594.7 + i * 25.4 + 24.2, col)
    txt(1632.6, 1606.8 + i * 25.5, lab, size=9.5, ha="left")


# ---- panel D ----
def d_map(pts):
    p = np.array(pts, dtype=float)
    return np.column_stack([1800 + p[:, 0] / 3, 420 + p[:, 1] / 3])


for pts in D_PINK:
    pix.add_patch(Polygon(smooth(d_map(pts), 5), closed=True, facecolor=GROUP_COLORS[1], edgecolor="none"))
for pts in D_YELLOW:
    pix.add_patch(Polygon(smooth(d_map(pts), 5), closed=True, facecolor=GROUP_COLORS[0], edgecolor="none"))
q = d_map(D_PINK_SPOTS)
pix.scatter(q[:, 0], q[:, 1], s=14, color=GROUP_COLORS[1], edgecolors="none")
q = d_map(D_YELLOW_SPOTS)
pix.scatter(q[:, 0], q[:, 1], s=14, color=GROUP_COLORS[0], edgecolors="none")
pix.annotate("", xy=(1847.7, 776), xytext=(1847.7, 837.3), arrowprops=dict(arrowstyle="->", lw=1.2, shrinkA=0, shrinkB=0, mutation_scale=10))
pix.annotate("", xy=(1910, 837.3), xytext=(1847.7, 837.3), arrowprops=dict(arrowstyle="->", lw=1.2, shrinkA=0, shrinkB=0, mutation_scale=10))
txt(1835, 808, "UMAP_2", size=10.4, rotation=90)
txt(1877, 847, "UMAP_1", size=10.4)
txt(2270, 615, "Group:", size=10, ha="left")
for ly, lab, col in [(637, "ER+ Tumour(33627)", GROUP_COLORS[0]), (652.5, "Normal(24076)", GROUP_COLORS[1])]:
    pix.scatter([2277], [ly], s=110, color=col, edgecolors="none")
    txt(2292.7, ly, lab, size=10, ha="left")


# ---- panel E ----
E_X = [(1830.6, 1930.8), (1967.4, 2066.7), (2106.4, 2205.7), (2234.4, 2333.7)]
E_Y = [(897.7, 1030.7), (1062.3, 1195)]
prop_by_sample = {}
for name, row in zip(SAMPLES_ER + SAMPLES_N, PROP_ER + PROP_N):
    prop_by_sample[name] = row

for k, name in enumerate(CELLTYPES):
    x0, x1 = E_X[k % 4]
    y0, y1 = E_Y[k // 4]
    ax = add_ax(x0, y0, x1, y1)
    vals = np.array([prop_by_sample[s][k] for s in SAMPLE_ORDER])
    is_er = np.array([s in SAMPLES_ER for s in SAMPLE_ORDER])
    ax.set_xlim(0.4, 2.6)
    ax.set_ylim(*E_YLIM[k])
    ax.grid(True, color="#E2E2E2", lw=1.0)
    ax.set_axisbelow(True)
    ax.boxplot([vals[is_er], vals[~is_er]], positions=[1, 2], widths=0.76, showfliers=False, showcaps=False,
               boxprops=dict(color="#666666", lw=1.1), whiskerprops=dict(color="#666666", lw=1.1), medianprops=dict(color="#3A3A3A", lw=2.4))
    xs = np.where(is_er, 1, 2) + np.array(E_JITTER[k])
    ax.scatter(xs, vals, s=(11.5 * .72) ** 2, c=SAMPLE_COLORS, edgecolors="none", zorder=4, clip_on=True)
    top = 0.84
    trans = ax.get_xaxis_transform()
    ax.plot([1, 1, 2, 2], [top - 0.035, top, top, top - 0.035], color="#666666", lw=0.9, transform=trans)
    ax.text(1.5, top + 0.005, E_P[k], transform=trans, ha="center", va="bottom", fontsize=8.2, color="#222222")
    ax.set_xticks([1, 2])
    if k >= 4:
        ax.set_xticklabels(["ER+ Tumour", "Normal"], rotation=90, fontsize=9.6, color="#222222")
    else:
        ax.set_xticklabels([])
    ax.set_yticks(E_TICKS[k])
    if E_TICKLABELS[k]:
        ax.set_yticklabels(E_TICKLABELS[k])
    ax.tick_params(axis="y", labelsize=9.4, length=2, pad=1.5, width=0.7, labelcolor="#222222")
    ax.tick_params(axis="x", length=0, pad=2)
    for s in ax.spines.values():
        s.set_color("#777777")
        s.set_linewidth(1.1)
    ttl = ax.set_title(name, fontsize=11.5, fontweight="bold", pad=3, color="#222222")
    ttl.set_clip_box(matplotlib.transforms.Bbox([[x0, 0], [x1 + 1, H]]))
    ttl.set_clip_on(True)

txt(1799, 1046.7, "Proportion (%)", size=10.8, rotation=90)
txt(2353, 942.7, "orig.ident", size=8.6, ha="left")
for i, (lab, col) in enumerate(zip(SAMPLE_ORDER, SAMPLE_COLORS)):
    pix.scatter([2362.8], [965 + i * 20.1], s=(11 * .72) ** 2, color=col, edgecolors="none")
    txt(2379, 965 + i * 20.1, lab, size=7.5, ha="left")


# ---- panel F ----
def f_map(pts):
    p = np.array(pts, dtype=float)
    return np.column_stack([p[:, 0] / 1.704, 1320 + p[:, 1] / 2.24])


for pts, col in [(F_C0, TC_COLORS[0]), (F_C0_TAIL, TC_COLORS[0]), (F_C1, TC_COLORS[1]), (F_C1_TAIL, TC_COLORS[1]), (F_C2, TC_COLORS[2]), (F_C3, TC_COLORS[3]), (F_C4_A, TC_COLORS[4]), (F_C4_B, TC_COLORS[4])]:
    pix.add_patch(Polygon(smooth(f_map(pts), 5), closed=True, facecolor=col, edgecolor="#1A1A1A", lw=0.6, hatch="ooo"))
for pts, col in [(F_C2_DOTS, TC_COLORS[2]), (F_C1_DOTS, TC_COLORS[1]), (F_C0_DOTS, TC_COLORS[0]), (F_C3_DOTS, TC_COLORS[3]), (F_C4_DOTS, TC_COLORS[4])]:
    q = f_map(pts)
    pix.scatter(q[:, 0], q[:, 1], s=18, color=col, edgecolors="#1A1A1A", linewidths=0.6)
for lab, lx, ly, col in [("C1 UGDH+ TCs", 496, 1518, TC_COLORS[2]), ("C2 ANKRD30A+ TCs", 250.6, 1630, TC_COLORS[1]), ("C3 PCLAF+ TCs", 69, 1864.6, TC_COLORS[3]),
                         ("C4 TM4SF1+ TCs", 566, 1760.6, TC_COLORS[4]), ("C0 MUCL1+ TCs", 372.7, 1863, TC_COLORS[0])]:
    txt(lx, ly, lab, size=12, color=col, fontweight="bold",
        bbox=dict(boxstyle="round,pad=0.25", facecolor="white", edgecolor=col, lw=0.6, alpha=0.95))
for i, (lab, col) in enumerate(zip(TC_TYPES, TC_COLORS)):
    pix.scatter([706], [1653 + i * 27.5], s=(15 * .72) ** 2, color=col, edgecolors="none")
    txt(730.6, 1653 + i * 27.5, lab, size=12, ha="left")


# ---- panel H ----
H_X = [(1818.7, 1907), (1930.3, 2018.6), (2048.6, 2136.9), (2159.8, 2248), (2277.6, 2365.9)]
tc_er = np.array(TC_ER)
tc_n = np.array(TC_N)
for k, name in enumerate(TC_TYPES):
    x0, x1 = H_X[k]
    ax = add_ax(x0, 1393.8, x1, 1957)
    ax.set_xlim(0.4, 2.6)
    ax.set_ylim(*H_YLIM[k])
    ax.grid(True, color="#E4E4E4", lw=1.0)
    ax.set_axisbelow(True)
    ax.boxplot([tc_er[:, k], tc_n[:, k]], positions=[1, 2], widths=0.76, showfliers=False, showcaps=False,
               boxprops=dict(color="#777777", lw=1.0), whiskerprops=dict(color="#444444", lw=0.9), medianprops=dict(color="#333333", lw=1.8))
    ax.scatter(1 + np.array(H_JIT_ER[k]), tc_er[:, k], s=(9.5 * .72) ** 2, color=GROUP_COLORS[0], edgecolors="none", zorder=4, clip_on=False)
    ax.scatter(2 + np.array(H_JIT_N[k]), tc_n[:, k], s=(9.5 * .72) ** 2, color=GROUP_COLORS[1], edgecolors="none", zorder=4, clip_on=False)
    trans = ax.get_xaxis_transform()
    ax.plot([1, 1, 2, 2], [.816, .84, .84, .816], color="#999999", lw=1.1, transform=trans)
    ax.text(1.5, .848, H_P[k], transform=trans, ha="center", va="bottom", fontsize=7.2, color="#222222")
    ax.set_xticks([1, 2])
    ax.set_xticklabels(["ER+ Tumour", "Normal"], rotation=90, fontsize=7.5, color="#222222")
    ax.set_yticks(H_TICKS[k])
    ax.tick_params(axis="y", labelsize=8.6, length=2, pad=1.5, width=0.6, labelcolor="#222222")
    ax.tick_params(axis="x", length=0, pad=2)
    for s in ax.spines.values():
        s.set_color("#A8A8A8")
        s.set_linewidth(1.1)
    ax.set_title(name, fontsize=7.4, fontweight="bold", pad=2.5, color="#222222")

txt(1785, 1676, "Proportion (%)", size=9, rotation=90)
txt(2382, 1658, "group", size=7.2, ha="left")
for ly, lab, col in [(1675, "ER+ Tumour", GROUP_COLORS[0]), (1690.7, "Normal", GROUP_COLORS[1])]:
    pix.scatter([2390], [ly], s=(9 * .72) ** 2, color=col, edgecolors="none")
    txt(2404, ly, lab, size=5.8, ha="left")

fig.savefig("out.png", dpi=100, facecolor="white")
